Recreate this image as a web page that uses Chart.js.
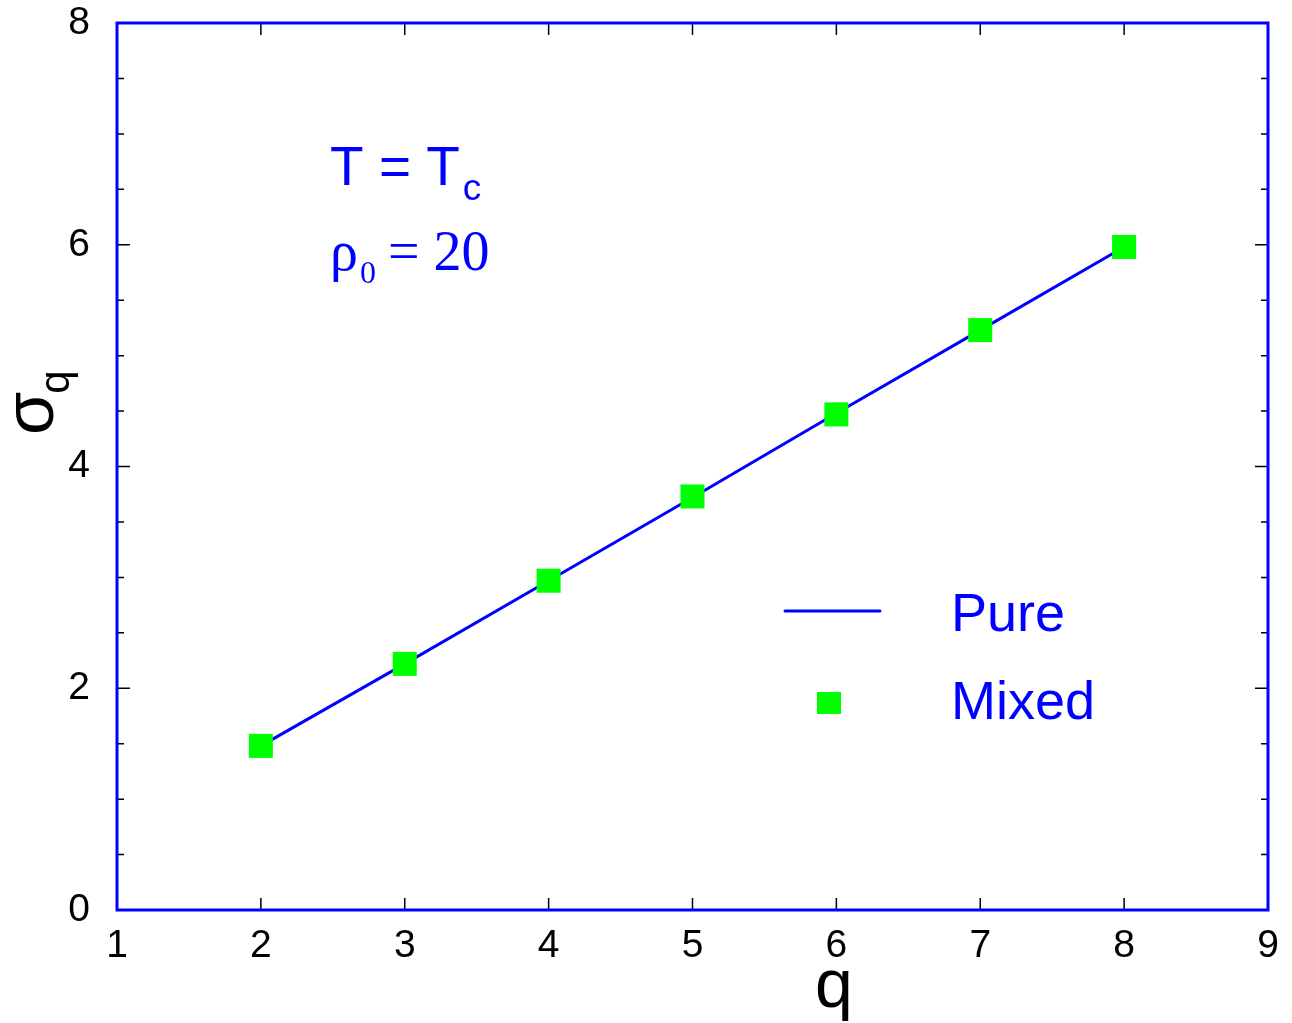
<!DOCTYPE html>
<html>
<head>
<meta charset="utf-8">
<script src="https://cdn.jsdelivr.net/npm/chart.js@4.4.1/dist/chart.umd.min.js"></script>
<style>
  html, body { margin: 0; padding: 0; background: #fff; }
  #chart { display: block; }
</style>
</head>
<body>
<canvas id="chart" width="1292" height="1023"></canvas>
<script>
// values
const qValues = [2, 3, 4, 5, 6, 7, 8];
const pureSigma = [1.48, 2.22, 2.97, 3.72, 4.48, 5.23, 5.98];
const mixedSigma = [1.48, 2.22, 2.97, 3.73, 4.47, 5.23, 5.98];
const xTicks = [1, 2, 3, 4, 5, 6, 7, 8, 9];
const yTicks = [0, 2, 4, 6, 8];
const yMinorStep = 0.5;

const BLUE = '#0000ff';
const GREEN = '#00ff00';
const SANS = '"Liberation Sans", Arial, sans-serif';
const SERIF = '"Liberation Serif", "Times New Roman", serif';

// inner ticks, frame, titles, notes and legend
const decorations = {
    id: 'decorations',
    afterDatasetsDraw(chart) {
        const ctx = chart.ctx;
        const a = chart.chartArea;
        const xs = chart.scales.x;
        const ys = chart.scales.y;

        ctx.save();
        ctx.strokeStyle = '#000';
        ctx.lineWidth = 1.5;
        ctx.beginPath();
        xTicks.forEach(v => {
            const px = xs.getPixelForValue(v);
            ctx.moveTo(px, a.bottom); ctx.lineTo(px, a.bottom - 12);
            ctx.moveTo(px, a.top); ctx.lineTo(px, a.top + 12);
        });
        for (let v = ys.min; v <= ys.max + 1e-9; v += yMinorStep) {
            const py = ys.getPixelForValue(v);
            const len = yTicks.includes(v) ? 13 : 7;
            ctx.moveTo(a.left, py); ctx.lineTo(a.left + len, py);
            ctx.moveTo(a.right, py); ctx.lineTo(a.right - len, py);
        }
        ctx.stroke();

        // frame
        ctx.strokeStyle = BLUE;
        ctx.lineWidth = 3;
        ctx.strokeRect(a.left, a.top, a.right - a.left, a.bottom - a.top);

        // x title
        ctx.fillStyle = '#000';
        ctx.textBaseline = 'alphabetic';
        ctx.textAlign = 'left';
        ctx.font = '68px ' + SANS;
        ctx.fillText('q', 815, 1007);

        // y title sigma_q
        ctx.save();
        ctx.translate(53, 435);
        ctx.rotate(-Math.PI / 2);
        ctx.font = '70px ' + SANS;
        ctx.fillText('σ', 0, 0);
        const sw = ctx.measureText('σ').width;
        ctx.font = '42px ' + SANS;
        ctx.fillText('q', sw - 2, 16);
        ctx.restore();

        // notes
        ctx.fillStyle = BLUE;
        ctx.font = '55px ' + SANS;
        let x = 330;
        ctx.fillText('T = T', x, 185);
        x += ctx.measureText('T = T').width + 3;
        ctx.font = '37px ' + SANS;
        ctx.fillText('c', x, 200);

        x = 330;
        ctx.font = '56px ' + SERIF;
        ctx.fillText('ρ', x, 270);
        x += ctx.measureText('ρ').width + 2;
        ctx.font = '32px ' + SERIF;
        ctx.fillText('0', x, 283);
        x = 388;
        ctx.font = '56px ' + SERIF;
        ctx.fillText('= 20', x, 270);

        // legend
        const pure = chart.data.datasets[1];
        const mixed = chart.data.datasets[0];
        ctx.strokeStyle = BLUE;
        ctx.lineWidth = 3;
        ctx.lineCap = 'round';
        ctx.beginPath();
        ctx.moveTo(785, 611); ctx.lineTo(880, 611);
        ctx.stroke();
        ctx.fillStyle = GREEN;
        ctx.fillRect(817, 692, 24, 22);
        ctx.fillStyle = BLUE;
        ctx.font = '54px ' + SANS;
        ctx.textBaseline = 'middle';
        ctx.fillText(pure.label, 951, 616);
        ctx.fillText(mixed.label, 951, 704);
        ctx.restore();
    }
};

new Chart(document.getElementById('chart'), {
    type: 'scatter',
    data: {
        datasets: [
            {
                label: 'Mixed',
                data: qValues.map((q, i) => ({ x: q, y: mixedSigma[i] })),
                pointStyle: 'rect',
                pointRadius: 17,
                pointBackgroundColor: GREEN,
                pointBorderWidth: 0,
                showLine: false,
                order: 0
            },
            {
                label: 'Pure',
                data: qValues.map((q, i) => ({ x: q, y: pureSigma[i] })),
                showLine: true,
                borderColor: BLUE,
                borderWidth: 3,
                pointRadius: 0,
                tension: 0,
                order: 1
            }
        ]
    },
    options: {
        responsive: false,
        animation: false,
        devicePixelRatio: 1,
        layout: { padding: { top: 23, right: 24, left: 0, bottom: 0 } },
        plugins: { legend: { display: false }, tooltip: { enabled: false } },
        scales: {
            x: {
                type: 'linear',
                min: 1, max: 9,
                afterFit: s => { s.height = 113; s.paddingLeft = 0; s.paddingRight = 0; },
                afterBuildTicks: s => { s.ticks = xTicks.map(v => ({ value: v })); },
                grid: { display: false, drawTicks: false },
                border: { display: false },
                ticks: { autoSkip: false, maxRotation: 0, color: '#000', padding: 13, font: { size: 39, family: SANS } }
            },
            y: {
                type: 'linear',
                min: 0, max: 8,
                afterFit: s => { s.width = 117; s.paddingTop = 0; s.paddingBottom = 0; },
                afterBuildTicks: s => { s.ticks = yTicks.map(v => ({ value: v })); },
                grid: { display: false, drawTicks: false },
                border: { display: false },
                ticks: { autoSkip: false, color: '#000', padding: 27, font: { size: 39, family: SANS } }
            }
        }
    },
    plugins: [decorations]
});
</script>
</body>
</html>
